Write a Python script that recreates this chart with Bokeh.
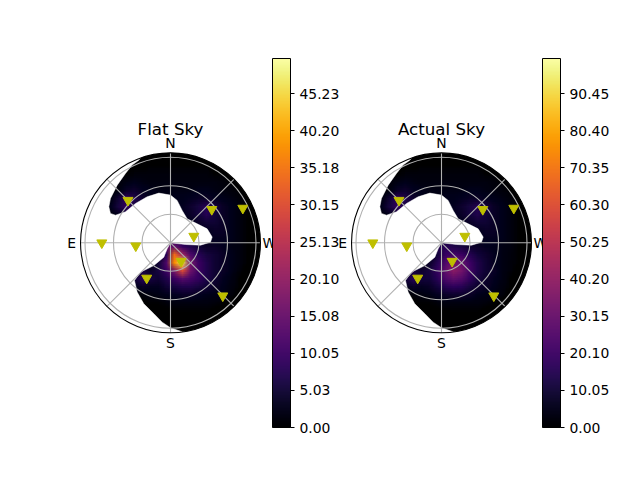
import numpy as np
from bokeh.core.properties import value
from bokeh.embed import file_html
from bokeh.models import ColorBar, FixedTicker, LinearColorMapper, PrintfTickFormatter, Range1d
from bokeh.palettes import Inferno256
from bokeh.plotting import figure
from bokeh.resources import INLINE

flat_rows = [
 [0]*24,
 [0]*24,
 [0,0,0,0,0,0,.5,.5,.5,1,1,1,1,1,1,1,1,.5,.5,0,0,0,0,0],
 [0,0,0,0,0,1,1,1.5,1.5,1.5,1.5,1.5,1.5,1.5,1.5,1.5,1.5,1,1,.5,0,0,0,0],
 [0,0,0,0,1,1.5,2.5,3,2.5,2,2,2,2,2,2,2,2,2,1.5,1,.5,0,0,0],
 [0,0,0,0,1,2,4,4.5,3.5,3,2.5,2.5,2.5,2.5,2.5,3,3,2.5,2,1.5,1,.5,0,0],
 [0,0,0,1,2,5,9,7,4.5,3,2.5,2.5,3,3,3.5,4,4,3.5,3,2.5,1.5,1,.3,0],
 [0,0,0,1,3,6,9,6,4,3,3,3,3,3.5,4.5,6,8,6,4,3,2,1,.5,0],
 [0,0,0,.5,1.5,3,4,3,3,3,3,3,3,3.5,4,5.5,7.5,5.5,4,3,2,1,.5,0],
 [0,0,0,0,.5,1,2,2,2,2,2,2,2.5,2.5,3,4,5,5,4,3,2,1,.5,0],
 [0,0,0,0,0,0,1,1,1,1,2,2,2.5,2.5,3,3.5,3.5,4,4,3,2,1,.5,0],
 [0,0,0,0,0,0,1,1,1,1,2,6,8,6,4,3.5,3,3.5,3.5,3,2,1,.5,0],
 [0,0,0,0,0,0,1,1,1,2,4,14,15,9,7,5,4,4,3.5,2.5,2,1,.5,0],
 [0,0,0,0,0,0,1,1,1,1,2,8,34,22,12,8,6,5,4,3,2,1,.3,0],
 [0,0,0,0,0,1,1,3,2,2,5,12,38,47,17,10,7,5,4,3,2,1,.3,0],
 [0,0,0,0,0,1,2,4,6,4,6,10,17,30,16,10,7,5,4,3,1.5,.5,0,0],
 [0,0,0,0,0,1,2,5,8,6,5,7,10,13,11,9,6.5,5,3.5,2.5,1,.3,0,0],
 [0,0,0,0,0,.5,1.5,3,4,3.5,3.5,5,6,7,7,6,5,4,3,2,1,.2,0,0],
 [0,0,0,0,0,0,.5,1,1.5,2,2.5,3,3.5,4,4,3.5,3,2.5,3,1.5,.5,0,0,0],
 [0,0,0,0,0,0,0,0,.5,1,1,1.5,2,2,2,2,2,1.5,1,.5,0,0,0,0],
 [0,0,0,0,0,0,0,0,0,.3,.5,.5,.8,1,1,1,1,.5,.3,0,0,0,0,0],
 [0,0,0,0,0,0,0,0,0,0,0,.2,.3,.3,.3,.3,.2,0,0,0,0,0,0,0],
 [0]*24,
 [0]*24,
]

actual_rows = [
 [0]*24,
 [0]*24,
 [0,0,0,0,0,0,1,1,1,2,2,2,2,2,2,2,2,1,1,0,0,0,0,0],
 [0,0,0,0,0,2,2,3,3,3,3,3,3,3,3,3,3,2,2,1,0,0,0,0],
 [0,0,0,0,2,3,5,6,5,4,4,4,4,4,4,4,4,4,3,2,1,0,0,0],
 [0,0,0,0,2,4,8,9,7,6,5,5,5,5,5,6,6,5,4,3,2,1,0,0],
 [0,0,0,2,4,10,18,14,9,6,5,5,6,6,7,8,8,7,6,5,3,2,.6,0],
 [0,0,0,2,6,12,18,12,8,6,6,6,6,7,9,12,15,12,8,6,4,2,1,0],
 [0,0,0,1,3,6,8,6,6,6,6,6,6,7,8,11,14,11,8,6,4,2,1,0],
 [0,0,0,0,1,2,4,4,4,4,4,4,5,5,6,8,10,10,8,6,4,2,1,0],
 [0,0,0,0,0,0,2,2,2,2,4,4,5,5,6,7,7,8,8,6,4,2,1,0],
 [0,0,0,0,0,0,2,2,2,2,4,8,10,9,8,7,6,7,7,6,4,2,1,0],
 [0,0,0,0,0,0,2,2,2,3,6,14,16,14,12,9,8,7,6,5,4,2,1,0],
 [0,0,0,0,0,0,2,2,2,2,4,11,19,22,20,15,11,9,7,5,3.5,2,.6,0],
 [0,0,0,0,0,2,2,5,4,3,8,15,24,32,30,21,14,10,7,5,3,2,.6,0],
 [0,0,0,0,0,2,4,7,11,9,12,18,28,38,33,22,14,10,8,5,3,1,0,0],
 [0,0,0,0,0,2,4,10,16,11,11,16,24,28,25,18,12,9,7,5,2,.6,0,0],
 [0,0,0,0,0,1,3,6,8,7,8,11,15,17,16,12,9,8,6,4,2,.4,0,0],
 [0,0,0,0,0,0,1,2,3,4,5,7,8,9,9,8,6,5,5,3,1,0,0,0],
 [0,0,0,0,0,0,0,0,1,2,2,3,4,4,4,4,4,3,2,1,0,0,0,0],
 [0,0,0,0,0,0,0,0,0,.6,1,1,1.6,2,2,2,2,1,.6,0,0,0,0,0],
 [0,0,0,0,0,0,0,0,0,0,0,.4,.6,.6,.6,.6,.4,0,0,0,0,0,0,0],
 [0]*24,
 [0]*24,
]

white_x = [-26.3,-33.3,-40.4,-47.4,-56.1,-63.2,-64.9,-63.2,-57.9,-47.4,-36.8,-24.6,-12.3,0,7.0,12.3,17.5,28.1,38.6,43.9,42.1,31.6,15.8,0,
           -3.5,-7.0,-17.5,-31.6,-37.9,-35.1,-28.1,-17.5,-8.8,0,12.3,15.8,-140,-140]
white_y = [95.4,87.0,81.8,73.0,60.7,46.7,37.9,30.9,29.1,32.6,41.4,48.4,52.3,50.2,44.6,34.0,25.3,20.0,14.7,6.0,0.7,-2.5,-1.8,0,
           -6.3,-15.1,-23.9,-30.9,-39.6,-51.9,-64.2,-74.7,-83.5,-89.5,-93.7,-102.8,-102.8,95.4]

station_az = [45, 309, 295.6, 90, 95, 285.8, 210, 146, 224.6]
station_r = [63.3, 55.9, 84.4, 72.3, 36.7, 25.5, 22.4, 44.8, 78.4]

grid_r = [30, 60, 90]
grid_az = [0, 45, 90, 135, 180, 225, 270, 315]
r_max = 94.7

flat_ticks = [0.00, 5.03, 10.05, 15.08, 20.10, 25.13, 30.15, 35.18, 40.20, 45.23]
actual_ticks = [0.00, 10.05, 20.10, 30.15, 40.20, 50.25, 60.30, 70.35, 80.40, 90.45]

PX = 0.95  # screen pixels per unit of radius
FONT = "DejaVu Sans"
W, H = 632, 472
CY = 242.3

p = figure(width=W, height=H, output_backend="svg", toolbar_location=None,
           x_range=Range1d(-170 / PX, (W - 170) / PX),
           y_range=Range1d((H - CY) / -PX, CY / PX),
           min_border=0, outline_line_color=None, background_fill_color="white")
p.extra_x_ranges["actual"] = Range1d(-441 / PX, (W - 441) / PX)
p.axis.visible = False
p.grid.visible = False


def panel(title, rows, high, ticks, range_name, cbar_x):
    mapper = LinearColorMapper(palette=Inferno256, low=0, high=high)
    span = 24 * 8 / PX
    field = np.flipud(np.array(rows, dtype=float))
    # the same field laid over itself at 2 px steps: the browser's own average softens the cell edges
    steps = [-3, -1, 1, 3]
    k = 0
    for sx in steps:
        for sy in steps:
            k += 1
            p.image(image=[field], x=-span / 2 + sx / PX, y=-span / 2 + sy / PX, dw=span, dh=span,
                    color_mapper=mapper, global_alpha=1 / k, x_range_name=range_name)
    p.patch(white_x, white_y, fill_color="white", line_color="white", line_width=0.5, x_range_name=range_name)
    p.annulus(x=0, y=0, inner_radius=r_max, outer_radius=160, fill_color="white", line_color=None,
              x_range_name=range_name)
    for r in grid_r:
        p.circle(x=0, y=0, radius=r, fill_color=None, line_color="#b0b0b0", line_width=1.1, x_range_name=range_name)
    for az in grid_az:
        a = np.radians(az)
        p.line([0, -r_max * np.sin(a)], [0, r_max * np.cos(a)], line_color="#b0b0b0", line_width=1.1,
               x_range_name=range_name)
    p.circle(x=0, y=0, radius=r_max, fill_color=None, line_color="black", line_width=1.1, x_range_name=range_name)
    a = np.radians(station_az)
    p.scatter(-np.array(station_r) * np.sin(a), np.array(station_r) * np.cos(a), marker="inverted_triangle",
              size=10, fill_color="#bfbf00", line_color="#bfbf00", x_range_name=range_name)
    for txt, x, y in (("N", 0, 105), ("S", 0, -105), ("E", -104, 0), ("W", 104, 0)):
        p.text([x], [y], text=[txt], text_font=value(FONT), text_font_size="13.9px",
               text_align="center", text_baseline="middle", text_color="black", x_range_name=range_name)
    p.text([0], [120], text=[title], text_font=value(FONT), text_font_size="16.7px",
           text_align="center", text_baseline="middle", text_color="black", x_range_name=range_name)
    cb = ColorBar(color_mapper=mapper, location=(cbar_x, 45), width=18, height=369, padding=0, margin=0,
                  ticker=FixedTicker(ticks=ticks), formatter=PrintfTickFormatter(format="%.2f"),
                  major_label_text_font=FONT, major_label_text_font_size="13.9px", major_label_text_color="black",
                  major_tick_in=0, major_tick_out=4, major_tick_line_color="black", major_tick_line_width=1,
                  minor_tick_line_color=None, bar_line_color="black", bar_line_width=1,
                  background_fill_color=None, border_line_color=None, label_standoff=5)
    p.add_layout(cb, "center")


panel("Flat Sky", flat_rows, 50, flat_ticks, "default", 272)
panel("Actual Sky", actual_rows, 100, actual_ticks, "actual", 542)
open("out.html", "w").write(file_html(p, INLINE))
